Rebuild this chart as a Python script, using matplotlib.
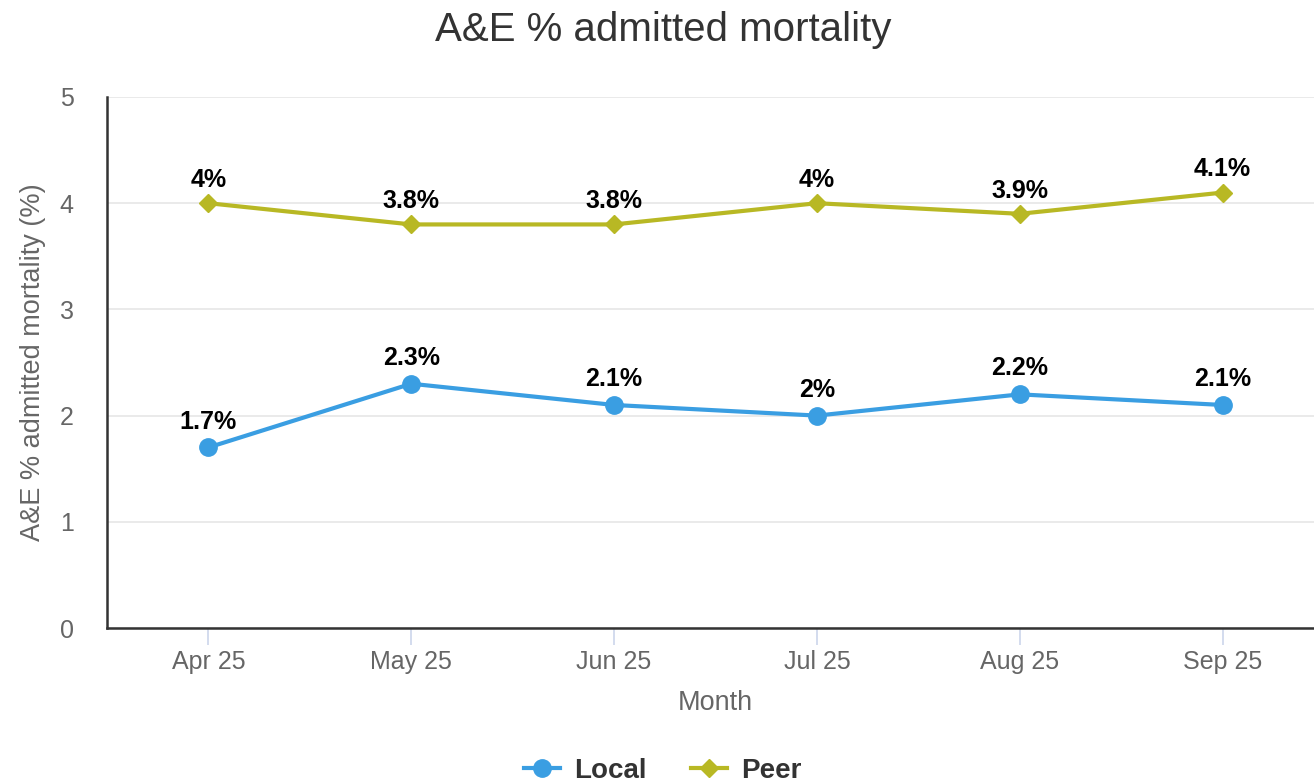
import matplotlib.pyplot as plt
from matplotlib.lines import Line2D

months = ["Apr 25", "May 25", "Jun 25", "Jul 25", "Aug 25", "Sep 25"]
local_vals = [1.7, 2.3, 2.1, 2.0, 2.2, 2.1]
peer_vals = [4.0, 3.8, 3.8, 4.0, 3.9, 4.1]

LOCAL_COLOR = "#3a9ee2"
PEER_COLOR = "#b8b824"
GREY = "#666666"

plt.rcParams["font.family"] = ["Liberation Sans", "DejaVu Sans"]

fig = plt.figure(figsize=(13.14, 7.83), dpi=100)
ax = fig.add_axes([107 / 1314, 155 / 783, 1217 / 1314, 531 / 783])

x = list(range(len(months)))
ax.plot(x, local_vals, color=LOCAL_COLOR, lw=3, marker="o", markersize=12.5, zorder=3)
ax.plot(x, peer_vals, color=PEER_COLOR, lw=3, marker="D", markersize=9.5, zorder=3)

def fmt(v):
    return f"{v:g}%"

for xi, v in zip(x, local_vals):
    ax.annotate(fmt(v), (xi, v), xytext=(0, 10), textcoords="offset points",
                ha="center", va="bottom", fontsize=18, fontweight="bold", color="black")
for xi, v in zip(x, peer_vals):
    ax.annotate(fmt(v), (xi, v), xytext=(0, 8), textcoords="offset points",
                ha="center", va="bottom", fontsize=18, fontweight="bold", color="black")

ax.set_xlim(-0.5, len(months) - 0.5)
ax.set_ylim(0, 5)
ax.set_yticks([0, 1, 2, 3, 4, 5])
ax.set_xticks(x)
ax.set_xticklabels(months)

ax.grid(axis="y", color="#e6e6e6", lw=1.2)
ax.set_axisbelow(True)
for side in ["top", "right"]:
    ax.spines[side].set_visible(False)
for side in ["left", "bottom"]:
    ax.spines[side].set_color("#333333")
    ax.spines[side].set_linewidth(1.8)

ax.tick_params(axis="y", length=0, pad=24, labelsize=18, labelcolor=GREY)
ax.tick_params(axis="x", length=12, width=1.2, color="#ccd6eb", pad=3.5,
               labelsize=18, labelcolor=GREY)

ax.set_xlabel("Month", fontsize=19.5, color=GREY, labelpad=12)
ax.set_ylabel("A&E % admitted mortality (%)", fontsize=19.5, color=GREY, labelpad=10)

fig.suptitle("A&E % admitted mortality", x=663 / 1314, y=1 - 30 / 783, va="center",
             fontsize=29, color="#333333")

handles = [
    Line2D([], [], color=LOCAL_COLOR, lw=3, marker="o", markersize=12.5),
    Line2D([], [], color=PEER_COLOR, lw=3, marker="D", markersize=9.5),
]
fig.legend(handles, ["Local", "Peer"], loc="center", bbox_to_anchor=(663 / 1314, 1 - 771 / 783),
           ncol=2, frameon=False, handlelength=1.3, handletextpad=0.5, columnspacing=1.6,
           prop={"size": 20, "weight": "bold"}, labelcolor="#333333")

fig.savefig("out.png", dpi=100)
